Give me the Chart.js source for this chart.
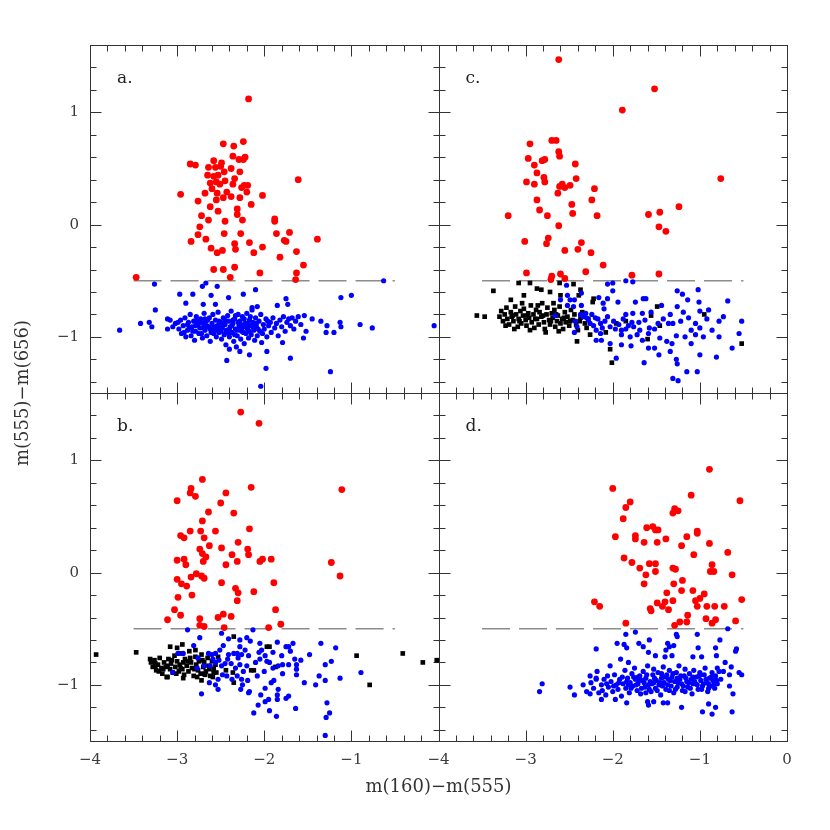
<!DOCTYPE html>
<html><head><meta charset="utf-8">
<script src="https://cdn.jsdelivr.net/npm/chart.js@4.4.1/dist/chart.umd.min.js"></script>
<style>html,body{margin:0;padding:0;background:#fff}canvas{display:block}</style>
</head><body>
<canvas id="c" width="830" height="830"></canvas>
<script>
// ---- tick labels / titles ----
const xTickValues = [-4, -3, -2, -1, 0];
const yTickValues = [-1, 0, 1];
const xTitle = 'm(160)\u2212m(555)';
const yTitle = 'm(555)\u2212m(656)';
const panelLetters = { a: 'a.', b: 'b.', c: 'c.', d: 'd.' };
const cutLevel = -0.5;
const cutRange = [-3.5, -0.5];

// ---- panel a ----
const aRed = [[-2.18,1.12],[-2.47,0.72],[-2.35,0.70],[-2.24,0.74],[-2.85,0.54],[-2.79,0.53],[-2.58,0.57],[-2.36,0.61],[-2.29,0.58],[-2.22,0.60],[-2.24,0.58],[-2.49,0.55],[-2.50,0.52],[-2.64,0.51],[-2.56,0.51],[-2.38,0.50],[-2.28,0.47],[-2.65,0.44],[-2.58,0.43],[-2.53,0.44],[-2.46,0.47],[-2.34,0.41],[-2.45,0.39],[-2.62,0.37],[-2.55,0.38],[-2.51,0.36],[-2.36,0.36],[-2.23,0.35],[-2.26,0.33],[-2.19,0.35],[-2.60,0.32],[-1.61,0.40],[-2.96,0.27],[-2.68,0.28],[-2.54,0.28],[-2.43,0.29],[-2.20,0.29],[-2.02,0.26],[-2.38,0.25],[-2.28,0.24],[-2.76,0.21],[-2.55,0.22],[-2.47,0.24],[-2.15,0.18],[-2.62,0.16],[-2.31,0.14],[-2.53,0.12],[-2.31,0.09],[-2.72,0.08],[-1.88,0.05],[-1.88,0.03],[-2.64,0.04],[-2.45,0.03],[-2.25,0.04],[-2.74,-0.02],[-2.76,-0.09],[-2.46,-0.08],[-2.27,-0.08],[-1.86,-0.08],[-1.71,-0.07],[-2.84,-0.15],[-2.67,-0.13],[-2.17,-0.16],[-1.77,-0.14],[-1.75,-0.15],[-1.39,-0.13],[-2.34,-0.17],[-2.61,-0.21],[-2.33,-0.22],[-2.02,-0.20],[-2.48,-0.23],[-2.54,-0.25],[-2.12,-0.25],[-1.63,-0.24],[-1.82,-0.29],[-1.55,-0.36],[-2.58,-0.40],[-2.47,-0.40],[-2.34,-0.38],[-2.05,-0.43],[-1.63,-0.43],[-1.64,-0.49],[-2.39,-0.47],[-3.47,-0.47]];
const aBlue = [[-3.26,-0.53],[-2.71,-0.55],[-2.67,-0.52],[-2.54,-0.55],[-2.24,-0.62],[-2.10,-0.58],[-0.63,-0.50],[-2.97,-0.62],[-2.82,-0.62],[-2.61,-0.63],[-2.41,-0.65],[-2.90,-0.70],[-2.70,-0.71],[-2.56,-0.71],[-1.75,-0.66],[-1.73,-0.71],[-1.85,-0.72],[-1.12,-0.65],[-1.00,-0.63],[-3.25,-0.76],[-3.66,-0.94],[-3.42,-0.88],[-3.32,-0.87],[-3.29,-0.91],[-3.11,-0.84],[-3.11,-0.93],[-3.08,-0.85],[-1.54,-0.81],[-1.45,-0.84],[-1.35,-0.86],[-1.28,-0.90],[-1.29,-0.96],[-1.20,-0.96],[-1.13,-0.87],[-1.12,-0.91],[-0.90,-0.89],[-0.76,-0.92],[-0.05,-0.90],[-1.52,-0.95],[-1.55,-1.01],[-1.79,-1.05],[-1.70,-1.19],[-2.43,-1.21],[-2.17,-1.16],[-1.97,-1.13],[-1.98,-1.28],[-1.24,-1.31],[-2.04,-1.44],[-2.40,-1.11],[-2.28,-1.13],[-2.08,-0.73],[-2.14,-0.74],
[-3.02,-0.88],[-2.98,-0.93],[-2.96,-0.85],[-2.95,-0.97],[-2.93,-0.90],[-2.91,-0.83],[-2.90,-1.00],[-2.88,-0.94],[-2.87,-0.87],[-2.85,-0.80],[-2.84,-0.99],[-2.83,-0.91],[-2.81,-0.86],[-2.80,-1.03],[-2.79,-0.95],[-2.78,-0.82],[-2.76,-0.89],[-2.75,-0.97],[-2.74,-0.92],[-2.73,-0.84],[-2.71,-1.01],[-2.70,-0.88],[-2.69,-0.79],[-2.68,-0.94],[-2.67,-0.86],[-2.66,-0.99],[-2.64,-0.91],[-2.63,-0.83],[-2.62,-1.04],[-2.61,-0.96],[-2.60,-0.88],[-2.59,-0.80],[-2.57,-0.93],[-2.56,-0.85],[-2.55,-1.00],[-2.54,-0.90],[-2.53,-0.78],[-2.52,-0.96],[-2.50,-0.87],[-2.49,-1.02],[-2.48,-0.92],[-2.47,-0.83],[-2.46,-0.98],[-2.45,-0.89],[-2.44,-1.07],[-2.43,-0.94],[-2.42,-0.81],[-2.41,-0.86],[-2.40,-1.00],[-2.39,-0.91],[-2.38,-0.77],[-2.37,-0.96],[-2.36,-0.88],[-2.35,-1.04],[-2.34,-0.84],[-2.33,-0.93],[-2.32,-1.09],[-2.31,-0.99],[-2.30,-0.80],[-2.29,-0.90],[-2.28,-0.86],[-2.27,-1.02],[-2.26,-0.95],[-2.25,-0.82],[-2.24,-0.91],[-2.23,-1.06],[-2.22,-0.88],[-2.21,-0.97],[-2.20,-0.79],[-2.19,-0.93],[-2.18,-1.01],[-2.17,-0.85],[-2.16,-0.90],[-2.15,-0.98],[-2.14,-0.76],[-2.13,-0.87],[-2.12,-0.94],[-2.11,-1.03],[-2.10,-0.83],[-2.09,-0.91],[-2.08,-0.99],[-2.06,-0.86],[-2.05,-0.95],[-2.04,-0.80],[-2.03,-1.05],[-2.01,-0.89],[-2.00,-0.93],[-1.98,-0.84],[-1.97,-1.00],[-1.95,-0.90],[-1.93,-0.87],[-1.92,-0.96],[-1.90,-0.83],[-1.88,-0.92],[-1.86,-0.88],[-1.84,-0.99],[-1.82,-0.85],[-1.80,-0.91],[-1.78,-0.82],[-1.76,-0.95],[-1.74,-0.87],[-1.72,-0.84],[-1.70,-0.90],[-1.68,-0.83],[-1.66,-0.93],[-1.64,-0.86],[-1.61,-0.82],[-1.58,-0.89],
[-2.88,-0.89],[-2.82,-0.95],[-2.77,-0.86],[-2.72,-0.97],[-2.66,-0.90],[-2.62,-0.93],[-2.58,-0.97],[-2.54,-0.94],[-2.51,-0.91],[-2.47,-0.88],[-2.44,-0.95],[-2.40,-0.93],[-2.37,-0.90],[-2.34,-0.98],[-2.31,-0.94],[-2.27,-0.89],[-2.24,-0.96],[-2.20,-0.92],[-2.17,-0.95],[-2.13,-0.91],[-2.70,-0.92],[-2.65,-0.85],[-2.58,-0.91],[-2.50,-0.95],[-2.45,-0.85],[-2.36,-0.85],[-2.30,-0.87],[-2.23,-0.84],[-2.16,-0.82],[-2.09,-0.88],[-3.05,-0.91],[-2.99,-0.87],[-2.92,-0.96],[-2.86,-0.92],[-2.79,-0.90],[-2.74,-0.87],[-2.68,-0.84],[-2.60,-0.95],[-2.52,-0.86],[-2.41,-0.97],[-2.33,-0.81],[-2.26,-0.92],[-2.19,-0.88],[-2.07,-0.93],[-2.02,-0.97],[-1.96,-0.86]];

// ---- panel b ----
const bRed = [[-2.27,1.43],[-2.06,1.33],[-2.71,0.83],[-2.84,0.75],[-2.85,0.71],[-2.79,0.68],[-2.44,0.71],[-2.15,0.76],[-1.11,0.74],[-3.00,0.64],[-2.50,0.62],[-2.64,0.54],[-2.35,0.53],[-2.71,0.46],[-2.17,0.39],[-2.85,0.37],[-2.73,0.37],[-2.56,0.37],[-2.96,0.33],[-2.92,0.31],[-2.69,0.31],[-2.30,0.27],[-2.63,0.24],[-2.49,0.22],[-2.74,0.21],[-2.19,0.21],[-2.18,0.16],[-2.71,0.17],[-2.67,0.14],[-2.37,0.16],[-3.00,0.11],[-2.92,0.12],[-2.70,0.10],[-2.90,0.07],[-2.44,0.07],[-2.31,0.10],[-2.05,0.10],[-2.02,0.12],[-1.92,0.12],[-1.23,0.09],[-1.13,-0.03],[-2.78,-0.01],[-2.84,-0.04],[-2.72,-0.03],[-2.69,-0.05],[-3.00,-0.06],[-2.49,-0.09],[-2.95,-0.10],[-2.89,-0.12],[-1.89,-0.09],[-2.33,-0.14],[-2.30,-0.18],[-2.12,-0.17],[-2.83,-0.20],[-2.99,-0.22],[-2.31,-0.25],[-3.03,-0.33],[-1.87,-0.33],[-3.11,-0.42],[-2.96,-0.38],[-2.53,-0.40],[-2.47,-0.37],[-2.38,-0.39],[-2.74,-0.41],[-2.74,-0.47],[-2.69,-0.48],[-2.46,-0.49],[-1.95,-0.49],[-1.81,-0.46]];
const bBlue = [[-2.88,-0.51],[-2.13,-0.51],[-2.49,-0.54],[-2.74,-0.58],[-2.81,-0.65],[-2.41,-0.59],[-2.28,-0.60],[-2.20,-0.58],[-2.16,-0.61],[-2.05,-0.63],[-1.85,-0.62],[-1.75,-0.66],[-1.72,-0.66],[-1.67,-0.63],[-1.35,-0.63],[-1.18,-0.67],[-1.48,-0.73],[-1.30,-0.82],[-1.23,-0.79],[-1.58,-0.78],[-1.65,-0.77],[-1.63,-0.82],[-1.63,-0.86],[-1.72,-0.82],[-1.79,-0.82],[-1.63,-0.91],[-1.79,-0.90],[-1.84,-0.83],[-1.90,-0.71],[-1.97,-0.79],[-1.94,-0.80],[-2.05,-0.77],[-2.06,-0.71],[-2.03,-0.69],[-2.08,-0.92],[-2.19,-0.96],[-2.25,-1.00],[-2.31,-0.92],[-2.26,-0.95],[-2.17,-1.06],[-2.18,-1.07],[-2.27,-1.04],[-2.12,-1.25],[-2.07,-1.18],[-2.04,-1.09],[-1.99,-1.03],[-1.99,-1.15],[-1.95,-1.13],[-1.94,-1.23],[-1.86,-1.28],[-1.85,-1.09],[-1.84,-1.04],[-1.85,-1.13],[-1.92,-0.98],[-1.89,-0.96],[-1.72,-1.10],[-1.75,-1.12],[-1.64,-1.21],[-1.54,-0.98],[-1.41,-1.00],[-1.37,-0.92],[-1.30,-0.96],[-1.13,-0.94],[-0.89,-0.89],[-1.28,-1.16],[-1.29,-1.29],[-1.25,-1.25],[-1.30,-1.45],[-2.53,-1.04],[-2.53,-0.95],[-2.56,-1.00],[-2.63,-0.98],[-2.72,-1.08],[-2.48,-0.91],[-2.43,-0.92],[-2.37,-0.95],[-3.05,-0.89],[-2.77,-0.85],[-2.69,-0.83],[-2.76,-0.76],[-2.99,-0.72],[-2.93,-0.72],[-2.64,-0.72],[-2.60,-0.73],[-2.56,-0.72],[-2.51,-0.69],[-2.47,-0.65],[-2.41,-0.73],[-2.35,-0.72],[-2.31,-0.72],[-2.28,-0.66],[-2.26,-0.73],[-2.22,-0.69],[-2.38,-0.81],[-2.45,-0.81],[-2.49,-0.83],[-2.33,-0.85],[-2.28,-0.82],[-2.20,-0.83],[-2.59,-0.77],[-2.56,-0.80],[-2.42,-0.77],[-2.30,-0.76],[-2.18,-0.74],[-2.10,-0.80],[-1.99,-0.74],[-1.90,-0.85],[-1.80,-0.74],[-1.70,-0.70],[-2.52,-0.78],[-2.62,-0.83],[-2.24,-0.88],[-2.00,-0.88]];
const bBlack = [[-3.93,-0.73],[-3.47,-0.71],[-0.02,-0.78],[-0.41,-0.72],[-0.18,-0.80],[-0.94,-0.74],[-0.79,-1.00],[-1.97,-0.66],[-1.94,-0.66],[-1.87,-0.84],[-2.15,-0.87],[-2.12,-0.87],[-2.36,-0.89],[-2.35,-0.98],[-2.44,-0.87],[-2.35,-0.57],[-3.08,-0.66],[-3.00,-0.67],[-2.94,-0.64],[-2.79,-0.69],[-3.31,-0.77],[-3.25,-0.83],[-3.11,-0.93],[-2.93,-0.94],[-2.72,-0.96],[-2.68,-0.90],[-2.58,-0.89],
[-3.30,-0.80],[-3.28,-0.84],[-3.26,-0.78],[-3.24,-0.87],[-3.22,-0.82],[-3.20,-0.76],[-3.18,-0.85],[-3.17,-0.90],[-3.15,-0.80],[-3.13,-0.84],[-3.12,-0.93],[-3.10,-0.77],[-3.08,-0.86],[-3.07,-0.81],[-3.05,-0.89],[-3.03,-0.74],[-3.02,-0.84],[-3.00,-0.79],[-2.98,-0.88],[-2.97,-0.82],[-2.95,-0.72],[-2.94,-0.86],[-2.92,-0.91],[-2.91,-0.77],[-2.89,-0.83],[-2.87,-0.88],[-2.86,-0.70],[-2.84,-0.80],[-2.83,-0.85],[-2.81,-0.92],[-2.79,-0.75],[-2.78,-0.82],[-2.76,-0.87],[-2.75,-0.79],[-2.73,-0.90],[-2.72,-0.73],[-2.70,-0.84],[-2.69,-0.80],[-2.67,-0.88],[-2.65,-0.76],[-2.64,-0.83],[-2.62,-0.92],[-2.60,-0.79],[-2.58,-0.86],[-2.56,-0.82],[-2.55,-0.89],[-2.53,-0.75],[-3.21,-0.88],[-3.11,-0.83],[-3.01,-0.90],[-2.93,-0.80],[-2.85,-0.76],[-2.77,-0.93],[-2.68,-0.91],[-2.59,-0.93],[-3.25,-0.81],[-3.16,-0.86],[-3.06,-0.78],[-2.96,-0.85],[-2.88,-0.79],[-2.80,-0.86],[-2.71,-0.78],[-2.63,-0.86]];

// ---- panel c ----
const cRed = [[-2.62,1.47],[-1.52,1.21],[-1.89,1.02],[-2.95,0.72],[-2.70,0.75],[-2.65,0.75],[-2.62,0.65],[-2.61,0.61],[-2.97,0.59],[-2.81,0.57],[-2.78,0.58],[-2.90,0.53],[-2.43,0.54],[-2.87,0.46],[-2.79,0.42],[-2.78,0.38],[-2.99,0.38],[-2.90,0.36],[-2.42,0.41],[-2.61,0.34],[-2.58,0.36],[-2.55,0.33],[-2.49,0.35],[-2.63,0.28],[-2.21,0.32],[-0.76,0.41],[-2.87,0.22],[-2.24,0.22],[-2.47,0.18],[-2.84,0.13],[-2.46,0.10],[-2.18,0.08],[-2.75,0.08],[-3.20,0.08],[-1.24,0.16],[-1.59,0.09],[-1.46,0.11],[-2.62,-0.01],[-1.47,-0.02],[-1.39,-0.06],[-2.74,-0.12],[-3.01,-0.15],[-2.76,-0.17],[-2.36,-0.16],[-2.40,-0.22],[-2.55,-0.23],[-2.25,-0.25],[-2.11,-0.36],[-2.31,-0.42],[-2.99,-0.43],[-2.60,-0.44],[-2.70,-0.46],[-2.71,-0.49],[-2.55,-0.48],[-1.78,-0.45],[-1.47,-0.44]];
const cBlue = [[-2.53,-0.54],[-2.06,-0.53],[-2.00,-0.52],[-2.00,-0.59],[-1.85,-0.50],[-1.77,-0.51],[-2.60,-0.67],[-2.52,-0.63],[-2.49,-0.67],[-2.44,-0.67],[-2.36,-0.61],[-2.52,-0.72],[-2.45,-0.73],[-2.36,-0.72],[-2.16,-0.65],[-2.06,-0.66],[-2.11,-0.70],[-2.10,-0.75],[-1.94,-0.69],[-1.74,-0.69],[-1.65,-0.66],[-1.62,-0.66],[-1.44,-0.72],[-1.26,-0.59],[-1.20,-0.62],[-1.02,-0.58],[-1.14,-0.67],[-1.01,-0.69],[-1.26,-0.73],[-0.68,-0.68],[-0.90,-0.76],[-1.00,-0.77],[-1.19,-0.78],[-1.34,-0.80],[-1.85,-0.80],[-1.77,-0.79],[-1.66,-0.79],[-1.56,-0.78],[-0.73,-0.82],[-0.78,-0.86],[-0.52,-0.86],[-1.05,-0.88],[-1.00,-0.92],[-1.36,-0.88],[-1.31,-0.88],[-1.48,-0.88],[-1.52,-0.93],[-1.78,-0.87],[-1.76,-0.91],[-1.69,-0.94],[-1.90,-0.98],[-1.80,-1.00],[-1.72,-0.98],[-1.59,-0.97],[-1.46,-1.01],[-1.38,-1.04],[-1.32,-1.06],[-1.27,-0.99],[-1.17,-1.00],[-1.10,-0.94],[-1.05,-0.98],[-0.96,-1.00],[-0.78,-1.00],[-0.55,-0.97],[-1.10,-1.06],[-1.00,-1.16],[-0.81,-1.18],[-0.63,-1.10],[-2.03,-1.06],[-1.90,-1.07],[-1.79,-1.08],[-1.66,-1.03],[-1.59,-1.10],[-1.52,-1.10],[-1.47,-1.16],[-1.34,-1.13],[-1.27,-1.20],[-1.26,-1.24],[-1.96,-1.19],[-1.64,-1.23],[-1.15,-1.31],[-1.03,-1.31],[-1.31,-1.37],[-1.25,-1.39],[-2.66,-0.81],[-2.43,-0.86],[-2.44,-0.96],[-2.41,-0.91],[-2.34,-0.82],[-2.30,-0.83],[-2.24,-0.80],[-2.20,-0.83],[-2.26,-0.88],[-2.19,-0.94],[-2.19,-1.03],[-2.13,-1.03],[-2.14,-0.88],[-2.09,-0.86],[-2.03,-0.91],[-1.97,-0.93],[-1.93,-0.89],[-1.90,-0.94],[-1.85,-0.93],[-2.14,-0.97],[-2.31,-0.79],[-2.37,-0.80],[-2.28,-0.85],[-2.22,-0.90],[-2.17,-0.84],[-2.12,-0.92],[-2.06,-0.82],[-1.99,-0.86],[-1.88,-0.84],[-1.82,-0.90],[-1.70,-0.87],[-1.63,-0.85],[-1.58,-0.92],[-1.42,-0.84],[-1.22,-0.86],[-1.13,-0.83],[-0.92,-0.84],[-0.86,-0.94]];
const cBlack = [[-3.37,-0.59],[-3.08,-0.52],[-2.95,-0.52],[-2.87,-0.57],[-2.82,-0.58],[-3.02,-0.63],[-3.17,-0.67],[-3.56,-0.81],[-3.47,-0.82],[-2.72,-0.60],[-2.61,-0.52],[-2.60,-0.63],[-2.45,-0.53],[-2.37,-0.58],[-2.39,-0.63],[-2.22,-0.66],[-2.23,-0.69],[-1.49,-0.73],[-0.95,-0.80],[-0.52,-1.06],[-2.01,-1.23],[-2.03,-1.11],[-2.41,-1.04],[-2.26,-0.98],[-2.08,-0.96],[-1.96,-0.88],[-1.85,-0.86],[-1.60,-1.02],[-1.56,-0.81],[-1.46,-0.90],
[-3.30,-0.82],[-3.28,-0.77],[-3.26,-0.86],[-3.24,-0.80],[-3.22,-0.74],[-3.21,-0.84],[-3.19,-0.89],[-3.17,-0.78],[-3.16,-0.82],[-3.14,-0.86],[-3.12,-0.73],[-3.11,-0.80],[-3.09,-0.91],[-3.08,-0.84],[-3.06,-0.77],[-3.05,-0.88],[-3.03,-0.81],[-3.02,-0.75],[-3.00,-0.85],[-2.99,-0.90],[-2.97,-0.79],[-2.96,-0.83],[-2.94,-0.72],[-2.93,-0.87],[-2.91,-0.80],[-2.90,-0.92],[-2.88,-0.76],[-2.87,-0.84],[-2.85,-0.89],[-2.84,-0.78],[-2.82,-0.82],[-2.81,-0.70],[-2.79,-0.87],[-2.78,-0.93],[-2.76,-0.80],[-2.75,-0.74],[-2.73,-0.85],[-2.72,-0.89],[-2.70,-0.79],[-2.69,-0.83],[-2.67,-0.76],[-2.66,-0.91],[-2.64,-0.86],[-2.63,-0.81],[-2.61,-0.73],[-2.60,-0.88],[-2.58,-0.84],[-2.57,-0.93],[-2.55,-0.78],[-2.54,-0.87],[-2.52,-0.82],[-2.50,-0.90],[-2.48,-0.76],[-2.46,-0.85],[-2.44,-0.80],[-2.42,-0.89],[-2.40,-0.94],[-2.37,-0.83],[-2.35,-0.78],[-2.32,-0.88],[-2.30,-0.92],[-2.28,-0.84],[-3.23,-0.90],[-3.13,-0.93],[-3.04,-0.70],[-2.95,-0.94],[-2.86,-0.72],[-2.77,-0.96],[-2.68,-0.70],[-2.62,-0.95],[-3.15,-0.81],[-3.07,-0.86],[-2.98,-0.81],[-2.89,-0.84],[-2.80,-0.81],[-2.71,-0.86],[-2.65,-0.80],[-2.56,-0.83],[-2.49,-0.86],[-2.38,-0.86]];

// ---- panel d ----
const dRed = [[-0.89,0.92],[-2.00,0.75],[-0.54,0.64],[-1.10,0.69],[-1.80,0.63],[-1.85,0.58],[-1.88,0.48],[-1.29,0.57],[-1.25,0.55],[-1.31,0.53],[-1.61,0.40],[-1.54,0.41],[-1.51,0.38],[-1.48,0.38],[-1.97,0.32],[-1.74,0.33],[-1.74,0.30],[-1.64,0.27],[-1.49,0.27],[-1.39,0.30],[-1.15,0.32],[-1.03,0.37],[-1.03,0.35],[-1.21,0.24],[-0.89,0.26],[-1.07,0.16],[-0.68,0.18],[-1.87,0.13],[-1.78,0.09],[-1.69,0.04],[-1.58,0.08],[-1.51,0.08],[-1.51,0.01],[-1.62,-0.02],[-1.64,-0.10],[-1.31,0.04],[-1.28,0.03],[-0.86,0.07],[-0.88,0.01],[-0.84,0.01],[-0.63,-0.02],[-1.20,-0.07],[-1.30,-0.10],[-1.21,-0.16],[-1.38,-0.18],[-1.08,-0.16],[-0.95,-0.19],[-2.21,-0.26],[-2.15,-0.30],[-1.49,-0.27],[-1.40,-0.26],[-1.31,-0.25],[-1.43,-0.30],[-1.36,-0.33],[-1.56,-0.34],[-1.57,-0.32],[-1.05,-0.25],[-1.00,-0.23],[-1.03,-0.30],[-0.92,-0.30],[-0.83,-0.30],[-0.72,-0.30],[-0.52,-0.24],[-1.14,-0.38],[-1.23,-0.44],[-1.15,-0.44],[-1.29,-0.47],[-0.93,-0.41],[-0.82,-0.42],[-0.86,-0.45],[-0.59,-0.43],[-1.85,-0.45]];
const dBlue = [[-1.74,-0.53],[-1.85,-0.55],[-1.27,-0.55],[-1.26,-0.57],[-1.03,-0.55],[-0.68,-0.50],[-1.58,-0.60],[-0.77,-0.60],[-2.19,-0.68],[-1.95,-0.63],[-1.87,-0.64],[-1.84,-0.67],[-1.70,-0.63],[-1.65,-0.66],[-1.59,-0.71],[-1.37,-0.63],[-1.35,-0.66],[-1.30,-0.65],[-1.39,-0.69],[-1.02,-0.67],[-0.82,-0.67],[-0.58,-0.68],[-0.59,-0.70],[-0.81,-0.74],[-1.91,-0.77],[-1.82,-0.80],[-1.51,-0.74],[-1.40,-0.75],[-1.32,-0.74],[-1.08,-0.75],[-0.98,-0.75],[-2.18,-0.88],[-2.03,-0.83],[-2.06,-0.92],[-2.26,-0.92],[-2.19,-0.95],[-2.81,-0.99],[-2.84,-1.06],[-2.49,-1.02],[-2.44,-1.09],[-2.34,-1.00],[-2.30,-1.06],[-2.26,-1.08],[-2.13,-1.13],[-1.97,-1.13],[-1.84,-1.16],[-1.60,-1.15],[-1.59,-1.18],[-1.53,-1.15],[-1.42,-1.16],[-1.37,-1.16],[-1.21,-1.20],[-0.97,-1.24],[-0.90,-1.17],[-0.86,-1.26],[-0.82,-1.20],[-0.63,-1.24],[-0.62,-1.08],[-0.66,-1.01],[-0.64,-0.84],[-0.66,-0.91],[-0.52,-0.91],[-0.55,-0.89],[-0.71,-0.80],[-0.73,-0.88],[-0.80,-0.85],
[-2.25,-0.98],[-2.22,-1.03],[-2.19,-0.94],[-2.16,-1.07],[-2.13,-1.00],[-2.10,-0.95],[-2.08,-1.09],[-2.05,-1.02],[-2.02,-0.97],[-2.00,-1.06],[-1.98,-0.91],[-1.96,-1.00],[-1.94,-1.04],[-1.92,-0.95],[-1.90,-1.10],[-1.88,-0.99],[-1.86,-0.87],[-1.85,-1.03],[-1.83,-0.94],[-1.81,-1.07],[-1.80,-0.98],[-1.78,-0.90],[-1.77,-1.01],[-1.75,-0.85],[-1.74,-0.95],[-1.72,-1.05],[-1.71,-0.99],[-1.69,-0.92],[-1.68,-1.08],[-1.66,-0.96],[-1.65,-0.88],[-1.63,-1.02],[-1.62,-0.94],[-1.60,-0.83],[-1.59,-1.00],[-1.57,-0.97],[-1.56,-1.06],[-1.54,-0.91],[-1.53,-0.86],[-1.51,-1.03],[-1.50,-0.96],[-1.48,-0.89],[-1.47,-1.00],[-1.45,-1.09],[-1.44,-0.94],[-1.42,-0.84],[-1.41,-0.98],[-1.39,-1.04],[-1.38,-0.91],[-1.36,-0.95],[-1.35,-0.87],[-1.33,-1.01],[-1.32,-0.93],[-1.30,-1.07],[-1.29,-0.97],[-1.27,-0.89],[-1.26,-1.02],[-1.24,-0.83],[-1.23,-0.95],[-1.21,-0.99],[-1.20,-1.05],[-1.18,-0.92],[-1.17,-0.86],[-1.15,-0.97],[-1.14,-1.02],[-1.12,-0.90],[-1.10,-0.95],[-1.09,-1.08],[-1.07,-0.87],[-1.05,-0.99],[-1.04,-0.93],[-1.02,-1.04],[-1.00,-0.89],[-0.99,-0.96],[-0.97,-1.01],[-0.95,-0.91],[-0.94,-0.85],[-0.92,-0.98],[-0.91,-1.06],[-0.89,-0.94],[-0.88,-1.01],[-0.86,-0.89],[-0.85,-0.96],[-0.83,-1.03],[-0.82,-0.92],[-0.80,-0.99],[-0.78,-0.88],[-0.76,-0.95],
[-1.84,-0.97],[-1.79,-1.03],[-1.76,-0.93],[-1.73,-1.00],[-1.70,-0.96],[-1.67,-1.03],[-1.64,-0.98],[-1.61,-0.91],[-1.58,-1.04],[-1.55,-0.99],[-1.52,-0.94],[-1.49,-1.05],[-1.46,-0.98],[-1.43,-1.01],[-1.40,-0.93],[-1.37,-1.00],[-1.34,-0.96],[-1.31,-0.90],[-1.28,-1.04],[-1.25,-0.98],[-1.22,-0.92],[-1.19,-1.01],[-1.16,-0.94],[-1.13,-0.98],[-1.11,-1.03],[-1.08,-0.93],[-1.06,-0.97],[-1.03,-1.00],[-1.01,-0.92],[-0.98,-1.04],[-0.96,-0.99],[-0.93,-0.95],[-0.90,-0.99],[-0.87,-0.93],[-0.84,-1.00],[-0.81,-0.96],[-1.89,-0.93],[-1.82,-1.00],[-1.71,-0.93],[-1.62,-1.07],[-1.53,-0.98],[-1.44,-0.90],[-1.35,-1.05],[-1.26,-0.94],[-1.17,-1.06],[-1.08,-0.99],[-0.99,-0.91],[-0.90,-1.03],[-2.07,-0.99],[-1.99,-1.01],[-1.93,-0.98],[-2.12,-1.05]];

// ---- build chart ----
const pts = arr => arr.map(([x, y]) => ({ x, y }));
const cutLine = () => [{ x: cutRange[0], y: cutLevel }, { x: cutRange[1], y: cutLevel }];
const RED = '#ff0000', BLUE = '#0000ff', BLACK = '#000000';
const redDs = (d, xa, ya) => ({ data: pts(d), xAxisID: xa, yAxisID: ya, backgroundColor: RED, pointRadius: 3.4, borderWidth: 0, clip: false });
const blueDs = (d, xa, ya) => ({ data: pts(d), xAxisID: xa, yAxisID: ya, backgroundColor: BLUE, pointRadius: 2.6, borderWidth: 0, clip: false });
const blackDs = (d, xa, ya) => ({ data: pts(d), xAxisID: xa, yAxisID: ya, backgroundColor: BLACK, pointStyle: 'rect', pointRadius: 3.3, borderWidth: 0, clip: false });
const lineDs = (xa, ya) => ({ data: cutLine(), xAxisID: xa, yAxisID: ya, showLine: true, pointRadius: 0, borderColor: '#8c8c8c', borderWidth: 1.3, borderDash: [28, 9], clip: false });

const fmt = v => (v < 0 ? '\u2212' + Math.abs(v) : String(v));
const tickFont = { family: '"DejaVu Serif", serif', size: 15 };

function xScale(showZero) {
  return {
    type: 'linear', position: 'bottom', stack: 'x', min: -4, max: 0,
    grid: { display: false, drawTicks: false }, border: { display: false },
    afterBuildTicks: s => { s.ticks = xTickValues.map(v => ({ value: v })); },
    afterFit: s => { s.height = 89; },
    ticks: { font: tickFont, color: '#3a3a3a', padding: 10, maxRotation: 0, autoSkip: false,
      callback: v => (v === 0 && !showZero) ? '' : fmt(v) }
  };
}
function yScale() {
  return {
    type: 'linear', position: 'left', stack: 'y', min: -1.5, max: 1.6,
    grid: { display: false, drawTicks: false }, border: { display: false },
    afterBuildTicks: s => { s.ticks = yTickValues.map(v => ({ value: v })); },
    afterFit: s => { s.width = 90; },
    ticks: { font: tickFont, color: '#3a3a3a', padding: 11, autoSkip: false, callback: v => fmt(v) }
  };
}

const panels = [
  { x: 'xL', y: 'yT', key: 'a' },
  { x: 'xL', y: 'yB', key: 'b' },
  { x: 'xR', y: 'yT', key: 'c' },
  { x: 'xR', y: 'yB', key: 'd' }
];

const framePlugin = {
  id: 'frame',
  beforeDatasetsDraw(chart) {
    const ctx = chart.ctx;
    ctx.save();
    ctx.strokeStyle = '#333';
    ctx.lineWidth = 1;
    for (const p of panels) {
      const xs = chart.scales[p.x], ys = chart.scales[p.y];
      const L = Math.round(xs.getPixelForValue(-4)) + 0.5;
      const R = Math.round(xs.getPixelForValue(0)) + 0.5;
      const T = Math.round(ys.getPixelForValue(1.6)) + 0.5;
      const B = Math.round(ys.getPixelForValue(-1.5)) + 0.5;
      ctx.strokeRect(L, T, R - L, B - T);
      ctx.beginPath();
      for (let k = 0; k <= 20; k++) {
        const v = -4 + k * 0.2;
        const px = Math.round(xs.getPixelForValue(v)) + 0.5;
        const len = (k % 5 === 0) ? 11 : 6;
        ctx.moveTo(px, B); ctx.lineTo(px, B - len);
        ctx.moveTo(px, T); ctx.lineTo(px, T + len);
      }
      for (let k = -7; k <= 8; k++) {
        const v = k * 0.2;
        const py = Math.round(ys.getPixelForValue(v)) + 0.5;
        const len = (k % 5 === 0) ? 11 : 6;
        ctx.moveTo(L, py); ctx.lineTo(L + len, py);
        ctx.moveTo(R, py); ctx.lineTo(R - len, py);
      }
      ctx.stroke();
    }
    ctx.restore();
  },
  afterDraw(chart) {
    const ctx = chart.ctx;
    ctx.save();
    ctx.fillStyle = '#222';
    ctx.font = '17px "DejaVu Serif", serif';
    ctx.textAlign = 'left';
    ctx.textBaseline = 'alphabetic';
    for (const p of panels) {
      const xs = chart.scales[p.x], ys = chart.scales[p.y];
      ctx.fillText(panelLetters[p.key], xs.left + 27, ys.top + 38);
    }
    const xl = chart.scales.xL, xr = chart.scales.xR, yt = chart.scales.yT, yb = chart.scales.yB;
    ctx.font = '18px "DejaVu Serif", serif';
    ctx.textAlign = 'center';
    ctx.textBaseline = 'middle';
    ctx.fillStyle = '#333';
    ctx.fillText(xTitle, (xl.left + xr.right) / 2, 787);
    ctx.translate(23, (yt.top + yb.bottom) / 2);
    ctx.rotate(-Math.PI / 2);
    ctx.fillText(yTitle, 0, 0);
    ctx.restore();
  }
};

new Chart(document.getElementById('c'), {
  type: 'scatter',
  data: {
    datasets: [
      redDs(aRed, 'xL', 'yT'), redDs(bRed, 'xL', 'yB'), redDs(cRed, 'xR', 'yT'), redDs(dRed, 'xR', 'yB'),
      blueDs(aBlue, 'xL', 'yT'), blueDs(bBlue, 'xL', 'yB'), blueDs(cBlue, 'xR', 'yT'), blueDs(dBlue, 'xR', 'yB'),
      blackDs(bBlack, 'xL', 'yB'), blackDs(cBlack, 'xR', 'yT'),
      lineDs('xL', 'yT'), lineDs('xL', 'yB'), lineDs('xR', 'yT'), lineDs('xR', 'yB')
    ]
  },
  options: {
    responsive: false,
    animation: false,
    events: [],
    layout: { padding: { left: 0, top: 45, right: 43, bottom: 0 } },
    plugins: { legend: { display: false }, tooltip: { enabled: false }, title: { display: false } },
    scales: {
      xL: xScale(false),
      xR: xScale(true),
      yB: yScale(),
      yT: yScale()
    }
  },
  plugins: [framePlugin]
});
</script>
</body></html>
